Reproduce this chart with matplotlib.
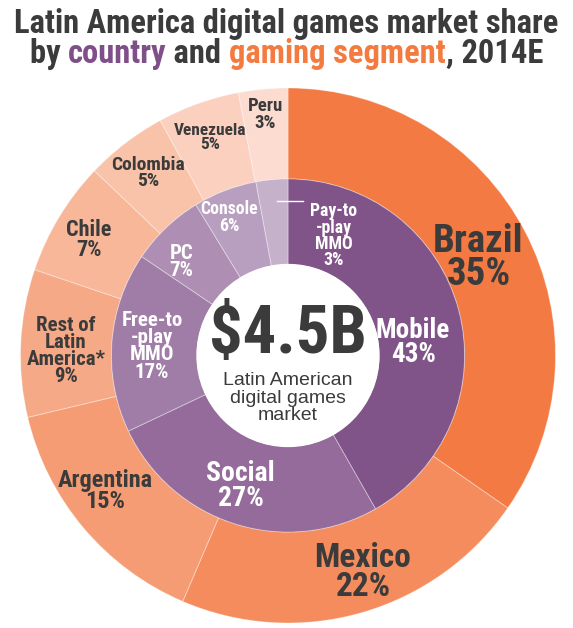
import numpy as np
import matplotlib
matplotlib.use("Agg")
import matplotlib.pyplot as plt
from matplotlib import font_manager
from matplotlib.font_manager import FontProperties

countries = ['Brazil', 'Mexico', 'Argentina', 'Rest of\nLatin\nAmerica*', 'Chile',
             'Colombia', 'Venezuela', 'Peru']
country_share = [35, 22, 15, 9, 7, 5, 5, 3]
segments = ['Mobile', 'Social', 'Free-to\n-play\nMMO', 'PC', 'Console', 'Pay-to\n-play\nMMO']
segment_share = [43, 27, 17, 7, 6, 3]
total_label = '$4.5B'
center_text = 'Latin American\ndigital games\nmarket'

country_colors = ['#F37A42', '#F48C5D', '#F59C74', '#F6A986', '#F8B799',
                  '#F9C3AA', '#FBD0BF', '#FCDCD0']
segment_colors = ['#805389', '#946B9A', '#A07DA6', '#AE8EB3', '#B89FC0', '#C6B1CB']

DARK = '#3B3B3B'
PURPLE = '#7E4F89'
ORANGE = '#F47B3F'

# pick a condensed bold face (the original uses a condensed grotesque)
found = []
for f in font_manager.fontManager.ttflist:
    fn = f.fname.lower()
    if ('narrow' in fn or 'condensed' in fn or f.stretch in ('condensed', 'semi-condensed')) \
            and 'bold' in fn and 'oblique' not in fn and 'italic' not in fn \
            and 'semibold' not in fn and 'extrabold' not in fn:
        found.append(f.fname)
order = ['liberationsansnarrow', 'robotocondensed', 'dejavusanscondensed', 'opensans']
found.sort(key=lambda p: min([i for i, k in enumerate(order)
                              if k in p.lower().replace('-', '').replace('_', '')] + [9]))
if found:
    BOLD = FontProperties(fname=found[0])
else:
    BOLD = FontProperties(family='Liberation Sans', weight='bold')
REG = ['Liberation Sans', 'DejaVu Sans']

fig = plt.figure(figsize=(5.73, 6.28), dpi=100)
ax = fig.add_axes([20.5 / 573, 5 / 628, 535 / 573, 535 / 628])
ax.set_aspect('equal')
ax.axis('off')

R_OUT, R_MID, R_IN = 1.0, 0.66, 0.34

ax.pie(country_share, radius=R_OUT, colors=country_colors, startangle=90, counterclock=False,
       wedgeprops=dict(width=R_OUT - R_MID, edgecolor=(1, 1, 1, 0.35), linewidth=0.7))
ax.pie(segment_share, radius=R_MID, colors=segment_colors, startangle=90, counterclock=False,
       wedgeprops=dict(width=R_MID - R_IN, edgecolor=(1, 1, 1, 0.35), linewidth=0.7))
ax.set_xlim(-1, 1)
ax.set_ylim(-1, 1)


def bold(size):
    p = BOLD.copy()
    p.set_size(size)
    return p


def mid_angles(vals):
    v = np.array(vals, dtype=float)
    cum = np.cumsum(v) - v / 2
    return np.radians(90 - cum / v.sum() * 360)


# radius, font size, angle tweak (deg)
outer_style = [(0.80, 28, -0.5), (0.86, 24, 3), (0.85, 17.5, -3.5), (0.83, 15, 1.5),
               (0.86, 16, 1), (0.86, 14, 0), (0.865, 12.5, 0), (0.905, 13.5, 0)]
for name, val, a, (r, fs, da) in zip(countries, country_share, mid_angles(country_share), outer_style):
    a = a + np.radians(da)
    ax.text(r * np.cos(a), r * np.sin(a), f'{name}\n{val}%', ha='center', va='center',
            fontproperties=bold(fs), color=DARK, linespacing=0.88)

inner_style = [(0.47, 19.5, -9), (0.52, 20, -2.5), (0.51, 15, 0.5), (0.53, 15, 5), (0.56, 12.8, 2)]
for name, val, a, (r, fs, da) in zip(segments, segment_share, mid_angles(segment_share), inner_style):
    a = a + np.radians(da)
    ax.text(r * np.cos(a), r * np.sin(a), f'{name}\n{val}%', ha='center', va='center',
            fontproperties=bold(fs), color='white', linespacing=0.88)

# smallest slice: label outside its wedge with a short leader
a_last = mid_angles(segment_share)[-1]
x0, y0 = 0.58 * np.cos(a_last), 0.58 * np.sin(a_last)
ax.plot([x0 + 0.012, x0 + 0.11], [y0, y0], color='white', lw=1)
ax.text(x0 + 0.225, y0 - 0.13, f'{segments[-1]}\n{segment_share[-1]}%', ha='center', va='center',
        fontproperties=bold(12.8), color='white', linespacing=0.88)

ax.add_patch(plt.Circle((0, 0), R_IN, color='white', zorder=3))
ax.text(0, 0.075, total_label, ha='center', va='center', fontproperties=bold(48),
        color=DARK, zorder=4)
ax.text(0, -0.16, center_text, ha='center', va='center', fontsize=14, color=DARK,
        family=REG, linespacing=1.05, zorder=4)

TS = 23.5
fig.text(0.5, 1 - 24 / 628, 'Latin America digital games market share', ha='center', va='center',
         fontproperties=bold(TS), color=DARK)
parts = [('by ', DARK), ('country', PURPLE), (' and ', DARK), ('gaming segment', ORANGE), (', 2014E', DARK)]
renderer = fig.canvas.get_renderer()
widths = []
for s, c in parts:
    t = fig.text(0, 0, s, fontproperties=bold(TS))
    widths.append(t.get_window_extent(renderer).width)
    t.remove()
x = 0.5 * fig.bbox.width - sum(widths) / 2
y2 = 1 - 54 / 628
for (s, c), w in zip(parts, widths):
    fig.text(x / fig.bbox.width, y2, s, ha='left', va='center', fontproperties=bold(TS), color=c)
    x += w

fig.savefig('out.png', dpi=100)
